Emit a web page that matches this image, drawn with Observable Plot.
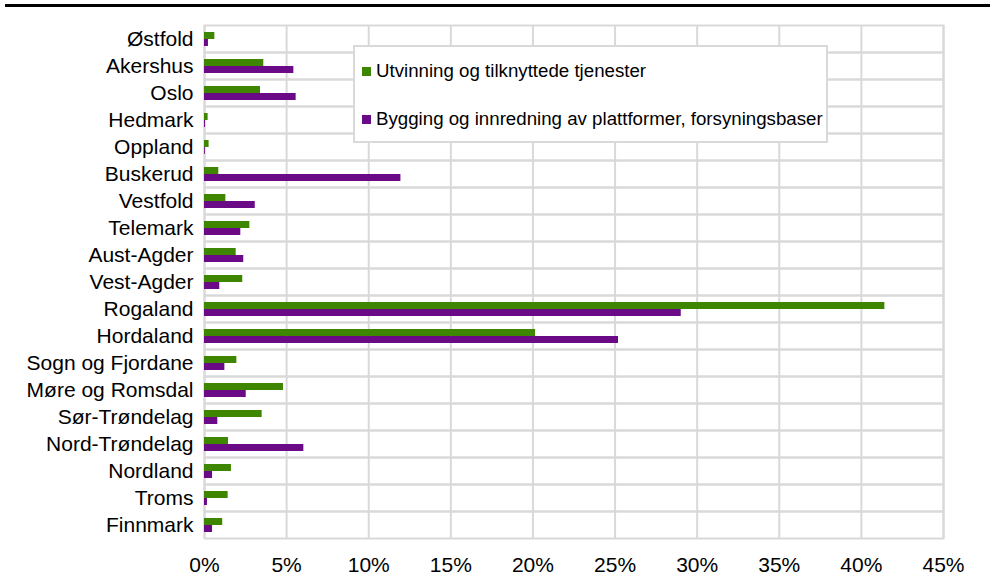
<!DOCTYPE html>
<html>
<head>
<meta charset="utf-8">
<script src="https://cdn.jsdelivr.net/npm/d3@7"></script>
<script src="https://cdn.jsdelivr.net/npm/@observablehq/plot@0.6"></script>
<style>
  html, body { margin: 0; padding: 0; background: #fff; }
  #wrap { position: relative; width: 994px; height: 586px; font-family: "Liberation Sans", Arial, sans-serif; }
  #topline { position: absolute; left: 5px; top: 4px; width: 985px; height: 3px; background: #000; }
  #legend { position: absolute; left: 353px; top: 45px; width: 471px; height: 94px; background: #fff; border: 2px solid #d9d9d9; }
  .item { position: absolute; left: 7px; display: flex; align-items: center; font-size: 18.7px; color: #000; white-space: nowrap; }
  .sw { width: 9px; height: 9px; margin-right: 5px; }
</style>
</head>
<body>
<div id="wrap">
  <div id="chart"></div>
  <div id="topline"></div>
  <div id="legend"></div>
</div>
<script>
const regions = ["Østfold","Akershus","Oslo","Hedmark","Oppland","Buskerud","Vestfold","Telemark","Aust-Agder","Vest-Agder","Rogaland","Hordaland","Sogn og Fjordane","Møre og Romsdal","Sør-Trøndelag","Nord-Trøndelag","Nordland","Troms","Finnmark"];
const seriesNames = ["Utvinning og tilknyttede tjenester", "Bygging og innredning av plattformer, forsyningsbaser"];
const utvinning = [0.63, 3.61, 3.41, 0.22, 0.28, 0.87, 1.30, 2.76, 1.93, 2.33, 41.43, 20.16, 1.97, 4.81, 3.51, 1.46, 1.64, 1.44, 1.11];
const bygging   = [0.24, 5.44, 5.58, 0.06, 0.05, 11.96, 3.09, 2.21, 2.39, 0.93, 29.03, 25.21, 1.24, 2.54, 0.81, 6.05, 0.49, 0.18, 0.49];
const xTicks = [0, 5, 10, 15, 20, 25, 30, 35, 40, 45];
const colors = ["#3f8600", "#6a0a86"];

const data = [];
regions.forEach((r, i) => {
  data.push({region: r, series: seriesNames[0], value: utvinning[i]});
  data.push({region: r, series: seriesNames[1], value: bygging[i]});
});

const chart = Plot.plot({
  width: 994,
  height: 586,
  marginLeft: 204,
  marginRight: 51,
  marginTop: 25,
  marginBottom: 48,
  style: {fontSize: "21px", fontFamily: "'Liberation Sans', Arial, sans-serif", color: "#000", background: "#fff"},
  x: {domain: [0, 45], ticks: xTicks, tickFormat: d => d + "%", tickSize: 0, tickPadding: 19, label: null},
  fy: {domain: regions, padding: 0, axis: "left", tickSize: 0, tickPadding: 11, label: null},
  y: {domain: seriesNames, paddingInner: 0, paddingOuter: 0.8, axis: null},
  color: {domain: seriesNames, range: colors},
  marks: [
    Plot.frame({stroke: "#d9d9d9", strokeWidth: 2}),
    Plot.gridX(xTicks, {stroke: "#d9d9d9", strokeOpacity: 1, strokeWidth: 2}),
    Plot.barX(data, {fy: "region", y: "series", x: "value", fill: "series"})
  ]
});
document.getElementById("chart").appendChild(chart);

const legend = document.getElementById("legend");
const tops = [13, 61];
seriesNames.forEach((name, i) => {
  const it = document.createElement("div");
  it.className = "item";
  it.style.top = tops[i] + "px";
  const sw = document.createElement("span");
  sw.className = "sw";
  sw.style.background = colors[i];
  const tx = document.createElement("span");
  tx.textContent = name;
  it.appendChild(sw);
  it.appendChild(tx);
  legend.appendChild(it);
});
</script>
</body>
</html>
